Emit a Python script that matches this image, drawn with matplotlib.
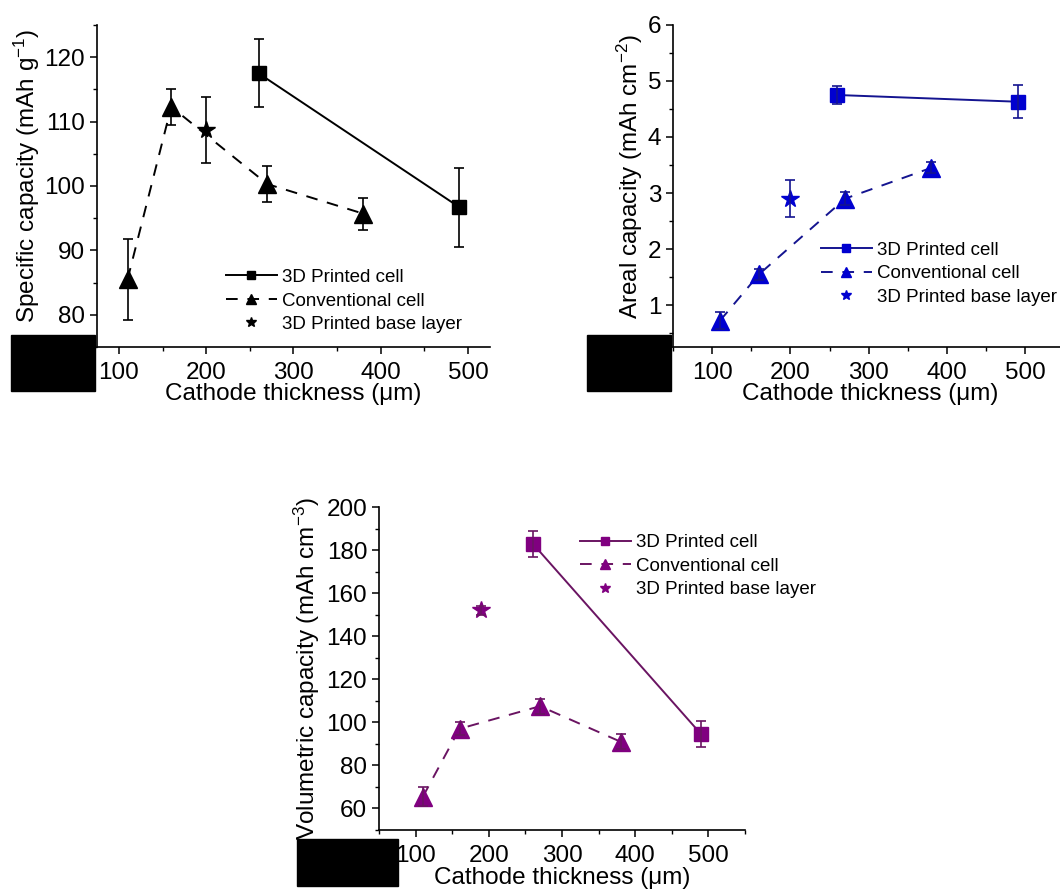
import matplotlib
matplotlib.use("Agg")
import matplotlib.pyplot as plt
from matplotlib.patches import Rectangle
from matplotlib.ticker import MultipleLocator

plt.rcParams['font.family'] = ['Liberation Sans', 'DejaVu Sans']
plt.rcParams['mathtext.fontset'] = 'custom'
plt.rcParams['mathtext.rm'] = 'Liberation Sans'
plt.rcParams['mathtext.it'] = 'Liberation Sans:italic'

# Data
printed_x = [260, 490]
conv_x = [110, 160, 270, 380]

spec_printed = [117.5, 96.7]
spec_printed_err = [5.3, 6.1]
spec_conv = [85.5, 112.3, 100.3, 95.7]
spec_conv_err = [6.3, 2.8, 2.8, 2.5]
spec_base_x = [200]
spec_base = [108.7]
spec_base_err = [5.1]

areal_printed = [4.75, 4.63]
areal_printed_err = [0.16, 0.29]
areal_conv = [0.72, 1.55, 2.9, 3.45]
areal_conv_err = [0.15, 0.1, 0.12, 0.1]
areal_base_x = [200]
areal_base = [2.9]
areal_base_err = [0.33]

vol_printed = [183, 94.5]
vol_printed_err = [6, 6]
vol_conv = [65.5, 97, 107.5, 91]
vol_conv_err = [4.5, 3, 3.5, 3.5]
vol_base_x = [190]
vol_base = [152]
vol_base_err = [2]

W, H = 1060, 892


def px_axes(fig, left, top, right, bottom):
    return fig.add_axes([left / W, 1 - bottom / H, (right - left) / W, (bottom - top) / H])


def draw_panel(ax, printed, printed_err, conv, conv_err, bx, base, base_err,
               line_c, mark_c, legend_xy):
    dash = (0, (6, 5))
    ax.plot(printed_x, printed, '-', color=line_c, lw=1.4, marker='s', ms=10,
            mfc=mark_c, mec=mark_c, label='3D Printed cell', zorder=2)
    ax.plot(conv_x, conv, linestyle=dash, color=line_c, lw=1.4, marker='^', ms=12.5,
            mfc=mark_c, mec=mark_c, label='Conventional cell', zorder=2)
    ax.plot(bx, base, ls='none', marker='*', ms=13, mfc=mark_c, mec=mark_c,
            label='3D Printed base layer', zorder=2)
    for xs, ys, es in [(printed_x, printed, printed_err), (conv_x, conv, conv_err),
                       (bx, base, base_err)]:
        ax.errorbar(xs, ys, yerr=es, fmt='none', ecolor=line_c, elinewidth=1.2,
                    capsize=3.5, capthick=1.2, zorder=3)
    leg = ax.legend(loc='center left', bbox_to_anchor=legend_xy, frameon=False,
                    fontsize=13.5, borderpad=0, borderaxespad=0, handlelength=2.7,
                    handletextpad=0.27, labelspacing=0.34, markerscale=0.6)
    for sp in ['top', 'right']:
        ax.spines[sp].set_visible(False)
    ax.spines['left'].set_linewidth(1.2)
    ax.spines['bottom'].set_linewidth(1.2)
    ax.tick_params(which='major', direction='out', length=5, width=1.1, labelsize=17.5)
    ax.tick_params(axis='x', which='major', pad=6)
    ax.tick_params(which='minor', direction='out', length=3, width=1.0)
    ax.xaxis.set_major_locator(MultipleLocator(100))
    ax.xaxis.set_minor_locator(MultipleLocator(50))
    ax.set_xlabel('Cathode thickness (μm)', fontsize=17.5)
    return leg


fig = plt.figure(figsize=(W / 100, H / 100), dpi=100)

# Specific capacity
ax1 = px_axes(fig, 97, 25, 490, 347)
draw_panel(ax1, spec_printed, spec_printed_err, spec_conv, spec_conv_err,
           spec_base_x, spec_base, spec_base_err, 'black', 'black', (0.328, 0.143))
ax1.set_xlim(75, 525)
ax1.set_ylim(75, 125)
ax1.yaxis.set_major_locator(MultipleLocator(10))
ax1.yaxis.set_minor_locator(MultipleLocator(5))
ax1.set_ylabel(r'Specific capacity (mAh g$^{\mathregular{-1}}$)', fontsize=17.5)
ax1.yaxis.set_label_coords(-0.14, 0.53)
ax1.xaxis.set_label_coords(0.5, -0.112)

# Areal capacity
ax2 = px_axes(fig, 673, 25, 1064.5, 347)
draw_panel(ax2, areal_printed, areal_printed_err, areal_conv, areal_conv_err,
           areal_base_x, areal_base, areal_base_err, '#141490', '#0000d0', (0.378, 0.227))
ax2.set_xlim(50, 550)
ax2.set_ylim(0.25, 6)
ax2.yaxis.set_major_locator(MultipleLocator(1))
ax2.yaxis.set_minor_locator(MultipleLocator(0.5))
ax2.set_ylabel(r'Areal capacity (mAh cm$^{\mathregular{-2}}$)', fontsize=17.5)
ax2.yaxis.set_label_coords(-0.072, 0.53)
ax2.xaxis.set_label_coords(0.503, -0.112)

# Volumetric capacity
ax3 = px_axes(fig, 379, 507, 745, 830)
draw_panel(ax3, vol_printed, vol_printed_err, vol_conv, vol_conv_err,
           vol_base_x, vol_base, vol_base_err, '#6a1462', '#800080', (0.549, 0.817))
ax3.set_xlim(50, 550)
ax3.set_ylim(50, 200)
ax3.yaxis.set_major_locator(MultipleLocator(20))
ax3.yaxis.set_minor_locator(MultipleLocator(10))
ax3.set_ylabel(r'Volumetric capacity (mAh cm$^{\mathregular{-3}}$)', fontsize=17.5)
ax3.yaxis.set_label_coords(-0.156, 0.50)
ax3.xaxis.set_label_coords(0.50, -0.115)

# black boxes covering panel letters
for x0, y0, x1, y1 in [(11, 335, 95, 391), (587, 335, 671, 391), (297, 839, 398, 886)]:
    fig.add_artist(Rectangle((x0 / W, 1 - y1 / H), (x1 - x0) / W, (y1 - y0) / H,
                             transform=fig.transFigure, color='black', zorder=10))

fig.savefig('out.png', dpi=100)
